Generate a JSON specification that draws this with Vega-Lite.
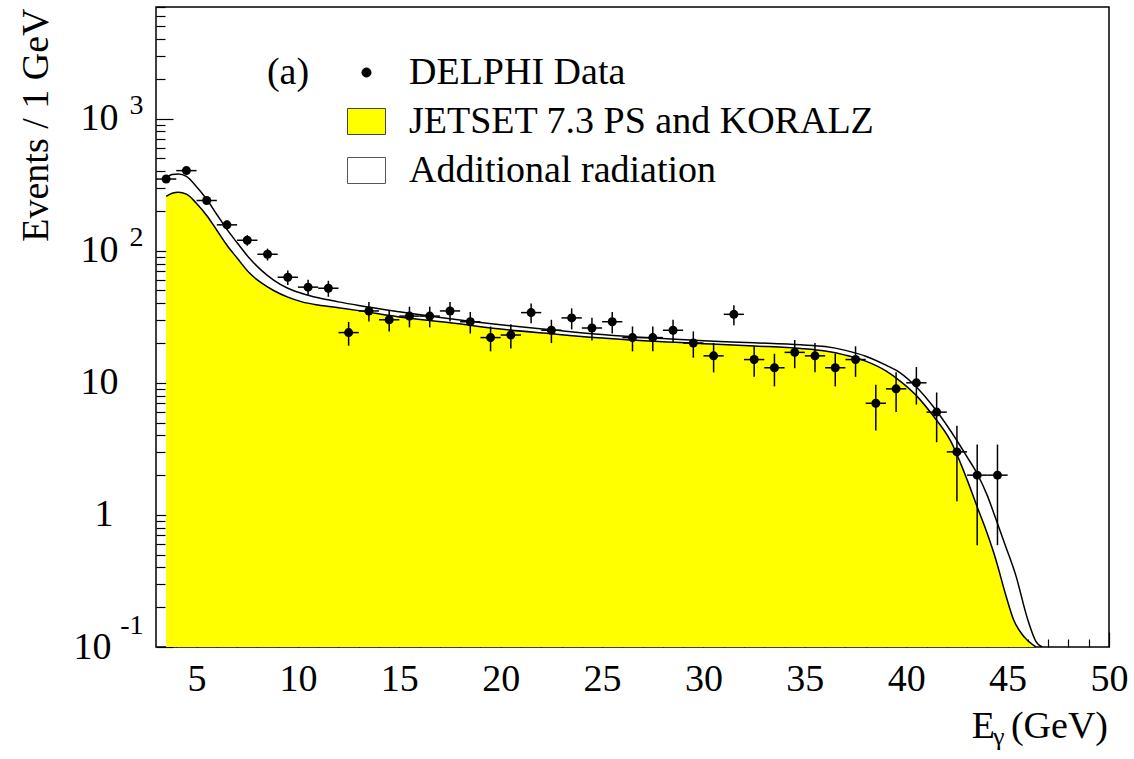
{
  "$schema": "https://vega.github.io/schema/vega-lite/v6.json",
  "width": 953,
  "height": 640,
  "autosize": {"type": "none"},
  "padding": {"left": 156, "top": 7, "right": 25, "bottom": 112},
  "background": "white",
  "config": {
    "view": {"stroke": "black", "strokeWidth": 1.5},
    "font": "Liberation Serif",
    "axis": {
      "grid": false, "domain": false,
      "labelFont": "Liberation Serif", "labelColor": "black", "labelFontSize": 38,
      "tickColor": "black", "tickWidth": 1.2,
      "labelOverlap": false, "labelFlush": false, "labelBound": false,
      "titleFont": "Liberation Serif", "titleFontWeight": "normal", "titleColor": "black"
    }
  },
  "datasets": {
    "delphi": [
      {"x": 3.5, "n": 349, "lo": 330.3, "hi": 367.7, "xlo": 3, "xhi": 4},
      {"x": 4.5, "n": 404, "lo": 383.9, "hi": 424.1, "xlo": 4, "xhi": 5},
      {"x": 5.5, "n": 240, "lo": 224.5, "hi": 255.5, "xlo": 5, "xhi": 6},
      {"x": 6.5, "n": 157, "lo": 144.5, "hi": 169.5, "xlo": 6, "xhi": 7},
      {"x": 7.5, "n": 120, "lo": 109.0, "hi": 131.0, "xlo": 7, "xhi": 8},
      {"x": 8.5, "n": 94, "lo": 84.3, "hi": 103.7, "xlo": 8, "xhi": 9},
      {"x": 9.5, "n": 63, "lo": 55.1, "hi": 70.9, "xlo": 9, "xhi": 10},
      {"x": 10.5, "n": 53, "lo": 45.7, "hi": 60.3, "xlo": 10, "xhi": 11},
      {"x": 11.5, "n": 52, "lo": 44.8, "hi": 59.2, "xlo": 11, "xhi": 12},
      {"x": 12.5, "n": 24, "lo": 19.1, "hi": 28.9, "xlo": 12, "xhi": 13},
      {"x": 13.5, "n": 35, "lo": 29.1, "hi": 40.9, "xlo": 13, "xhi": 14},
      {"x": 14.5, "n": 30, "lo": 24.5, "hi": 35.5, "xlo": 14, "xhi": 15},
      {"x": 15.5, "n": 32, "lo": 26.3, "hi": 37.7, "xlo": 15, "xhi": 16},
      {"x": 16.5, "n": 32, "lo": 26.3, "hi": 37.7, "xlo": 16, "xhi": 17},
      {"x": 17.5, "n": 35, "lo": 29.1, "hi": 40.9, "xlo": 17, "xhi": 18},
      {"x": 18.5, "n": 29, "lo": 23.6, "hi": 34.4, "xlo": 18, "xhi": 19},
      {"x": 19.5, "n": 22, "lo": 17.3, "hi": 26.7, "xlo": 19, "xhi": 20},
      {"x": 20.5, "n": 23, "lo": 18.2, "hi": 27.8, "xlo": 20, "xhi": 21},
      {"x": 21.5, "n": 34, "lo": 28.2, "hi": 39.8, "xlo": 21, "xhi": 22},
      {"x": 22.5, "n": 25, "lo": 20.0, "hi": 30.0, "xlo": 22, "xhi": 23},
      {"x": 23.5, "n": 31, "lo": 25.4, "hi": 36.6, "xlo": 23, "xhi": 24},
      {"x": 24.5, "n": 26, "lo": 20.9, "hi": 31.1, "xlo": 24, "xhi": 25},
      {"x": 25.5, "n": 29, "lo": 23.6, "hi": 34.4, "xlo": 25, "xhi": 26},
      {"x": 26.5, "n": 22, "lo": 17.3, "hi": 26.7, "xlo": 26, "xhi": 27},
      {"x": 27.5, "n": 22, "lo": 17.3, "hi": 26.7, "xlo": 27, "xhi": 28},
      {"x": 28.5, "n": 25, "lo": 20.0, "hi": 30.0, "xlo": 28, "xhi": 29},
      {"x": 29.5, "n": 20, "lo": 15.5, "hi": 24.5, "xlo": 29, "xhi": 30},
      {"x": 30.5, "n": 16, "lo": 12.0, "hi": 20.0, "xlo": 30, "xhi": 31},
      {"x": 31.5, "n": 33, "lo": 27.3, "hi": 38.7, "xlo": 31, "xhi": 32},
      {"x": 32.5, "n": 15, "lo": 11.1, "hi": 18.9, "xlo": 32, "xhi": 33},
      {"x": 33.5, "n": 13, "lo": 9.4, "hi": 16.6, "xlo": 33, "xhi": 34},
      {"x": 34.5, "n": 17, "lo": 12.9, "hi": 21.1, "xlo": 34, "xhi": 35},
      {"x": 35.5, "n": 16, "lo": 12.0, "hi": 20.0, "xlo": 35, "xhi": 36},
      {"x": 36.5, "n": 13, "lo": 9.4, "hi": 16.6, "xlo": 36, "xhi": 37},
      {"x": 37.5, "n": 15, "lo": 11.1, "hi": 18.9, "xlo": 37, "xhi": 38},
      {"x": 38.5, "n": 7, "lo": 4.35, "hi": 9.65, "xlo": 38, "xhi": 39},
      {"x": 39.5, "n": 9, "lo": 6.0, "hi": 12.0, "xlo": 39, "xhi": 40},
      {"x": 40.5, "n": 10, "lo": 6.84, "hi": 13.16, "xlo": 40, "xhi": 41},
      {"x": 41.5, "n": 6, "lo": 3.55, "hi": 8.45, "xlo": 41, "xhi": 42},
      {"x": 42.5, "n": 3, "lo": 1.27, "hi": 4.73, "xlo": 42, "xhi": 43},
      {"x": 43.5, "n": 2, "lo": 0.59, "hi": 3.41, "xlo": 43, "xhi": 44},
      {"x": 44.5, "n": 2, "lo": 0.59, "hi": 3.41, "xlo": 44, "xhi": 45}
    ],
    "jetset": [
      {"x": 3.5, "v": 258}, {"x": 3.8, "v": 272}, {"x": 4.1, "v": 277}, {"x": 4.5, "v": 268},
      {"x": 5.0, "v": 228}, {"x": 5.5, "v": 185}, {"x": 6.0, "v": 143}, {"x": 6.5, "v": 110},
      {"x": 7.0, "v": 88}, {"x": 7.6, "v": 68}, {"x": 8.2, "v": 57}, {"x": 8.8, "v": 50},
      {"x": 9.5, "v": 44.5}, {"x": 10.2, "v": 41}, {"x": 11, "v": 38.8}, {"x": 12, "v": 37},
      {"x": 13, "v": 35.2}, {"x": 15, "v": 31.5}, {"x": 17.5, "v": 28.5}, {"x": 20, "v": 25.5},
      {"x": 22.5, "v": 23.5}, {"x": 25, "v": 21.8}, {"x": 27.5, "v": 20.6}, {"x": 30, "v": 19.8},
      {"x": 32.5, "v": 19.0}, {"x": 34.8, "v": 18.2}, {"x": 36, "v": 17.4}, {"x": 37, "v": 16.2},
      {"x": 38, "v": 14.6}, {"x": 39, "v": 12.3}, {"x": 39.7, "v": 10.3}, {"x": 40.5, "v": 8.0},
      {"x": 41.3, "v": 5.7}, {"x": 42.2, "v": 3.6}, {"x": 43, "v": 1.85}, {"x": 43.5, "v": 1.15},
      {"x": 44, "v": 0.72}, {"x": 44.4, "v": 0.47}, {"x": 44.9, "v": 0.25}, {"x": 45.3, "v": 0.16},
      {"x": 45.8, "v": 0.12}, {"x": 46.4, "v": 0.1}
    ],
    "rad": [
      {"x": 3.5, "v": 355}, {"x": 3.8, "v": 378}, {"x": 4.1, "v": 381}, {"x": 4.5, "v": 365},
      {"x": 5.0, "v": 305}, {"x": 5.5, "v": 245}, {"x": 6.0, "v": 188}, {"x": 6.5, "v": 145},
      {"x": 7.0, "v": 115}, {"x": 7.6, "v": 88}, {"x": 8.2, "v": 71}, {"x": 8.8, "v": 60},
      {"x": 9.5, "v": 52}, {"x": 10.2, "v": 47.5}, {"x": 11, "v": 44}, {"x": 12, "v": 41},
      {"x": 13, "v": 38.5}, {"x": 15, "v": 34.5}, {"x": 17.5, "v": 30.5}, {"x": 20, "v": 27.5},
      {"x": 22.5, "v": 25.2}, {"x": 25, "v": 23.2}, {"x": 27.5, "v": 21.8}, {"x": 30, "v": 20.8},
      {"x": 32.5, "v": 20.1}, {"x": 34.8, "v": 19.4}, {"x": 36, "v": 18.8}, {"x": 37, "v": 17.6},
      {"x": 38, "v": 15.9}, {"x": 39, "v": 13.6}, {"x": 39.7, "v": 11.9}, {"x": 40.5, "v": 9.3},
      {"x": 41.3, "v": 6.7}, {"x": 42.2, "v": 4.3}, {"x": 43, "v": 2.75}, {"x": 43.5, "v": 2.05},
      {"x": 44, "v": 1.4}, {"x": 44.4, "v": 0.95}, {"x": 44.9, "v": 0.58}, {"x": 45.4, "v": 0.35},
      {"x": 46, "v": 0.16}, {"x": 46.4, "v": 0.11}, {"x": 46.7, "v": 0.1}
    ]
  },
  "resolve": {"axis": {"x": "independent", "y": "independent"}},
  "layer": [
    {
      "data": {"name": "jetset"},
      "mark": {"type": "area", "fill": "#ffff00", "interpolate": "monotone", "clip": true},
      "encoding": {
        "x": {
          "field": "x", "type": "quantitative",
          "scale": {"domain": [3, 50], "nice": false, "zero": false},
          "axis": {
            "orient": "bottom",
            "values": [4,5,6,7,8,9,10,11,12,13,14,15,16,17,18,19,20,21,22,23,24,25,26,27,28,29,30,31,32,33,34,35,36,37,38,39,40,41,42,43,44,45,46,47,48,49,50],
            "tickSize": {"condition": {"test": "datum.value % 5 == 0", "value": -15}, "value": -8},
            "labelExpr": "datum.value % 5 == 0 ? datum.label : ''",
            "labelPadding": 28,
            "labelBaseline": "top",
            "title": null
          }
        },
        "y": {
          "field": "v", "type": "quantitative",
          "scale": {"type": "log", "domain": [0.1, 7000], "nice": false},
          "axis": {
            "orient": "left",
            "values": [0.1,0.2,0.3,0.4,0.5,0.6,0.7,0.8,0.9,1,2,3,4,5,6,7,8,9,10,20,30,40,50,60,70,80,90,100,200,300,400,500,600,700,800,900,1000,2000,3000,4000,5000,6000,7000],
            "tickSize": {"condition": {"test": "datum.value==0.1||datum.value==1||datum.value==10||datum.value==100||datum.value==1000", "value": -17}, "value": -9},
            "labelExpr": "(datum.value==0.1||datum.value==10||datum.value==100||datum.value==1000) ? '10' : (datum.value==1 ? '1' : '')",
            "labelAlign": "right",
            "labelBaseline": "middle",
            "labelPadding": {"condition": [{"test": "datum.value==0.1", "value": 62}, {"test": "datum.value==1", "value": 60}], "value": 55},
            "title": "Events / 1 GeV",
            "titleFontSize": 38,
            "titleAngle": 270,
            "titleAlign": "right",
            "titleBaseline": "alphabetic",
            "titleX": -109,
            "titleY": 1
          }
        },
        "y2": {"datum": 0.1}
      }
    },
    {
      "data": {"name": "jetset"},
      "mark": {"type": "line", "color": "black", "strokeWidth": 1.5, "interpolate": "monotone", "clip": true},
      "encoding": {
        "x": {"field": "x", "type": "quantitative", "axis": null},
        "y": {"field": "v", "type": "quantitative", "axis": null}
      }
    },
    {
      "data": {"name": "rad"},
      "mark": {"type": "line", "color": "black", "strokeWidth": 1.5, "interpolate": "monotone", "clip": true},
      "encoding": {
        "x": {"field": "x", "type": "quantitative", "axis": null},
        "y": {
          "field": "v", "type": "quantitative",
          "axis": {
            "orient": "left",
            "values": [0.1, 100, 1000],
            "ticks": false,
            "domain": false,
            "labelExpr": "datum.value==0.1 ? '-1' : (datum.value==100 ? '2' : '3')",
            "labelFontSize": 28,
            "labelAlign": "right",
            "labelBaseline": "middle",
            "labelPadding": 13,
            "labelOffset": {"condition": {"test": "datum.value==0.1", "value": -22}, "value": -13},
            "title": null
          }
        }
      }
    },
    {
      "data": {"name": "delphi"},
      "mark": {"type": "rule", "color": "black", "strokeWidth": 1.5},
      "encoding": {
        "x": {"field": "x", "type": "quantitative", "axis": null},
        "y": {"field": "lo", "type": "quantitative", "axis": null},
        "y2": {"field": "hi"}
      }
    },
    {
      "data": {"name": "delphi"},
      "mark": {"type": "rule", "color": "black", "strokeWidth": 1.5},
      "encoding": {
        "x": {"field": "xlo", "type": "quantitative", "axis": null},
        "x2": {"field": "xhi"},
        "y": {"field": "n", "type": "quantitative", "axis": null}
      }
    },
    {
      "data": {"name": "delphi"},
      "mark": {"type": "point", "filled": true, "color": "black", "size": 81, "opacity": 1},
      "encoding": {
        "x": {"field": "x", "type": "quantitative", "axis": null},
        "y": {"field": "n", "type": "quantitative", "axis": null}
      }
    },
    {
      "data": {"values": []},
      "mark": {"type": "point", "filled": true, "opacity": 1, "strokeWidth": 1},
      "encoding": {
        "fill": {
          "field": "s", "type": "nominal",
          "scale": {"domain": ["DELPHI Data", "JETSET 7.3 PS and KORALZ", "Additional radiation"], "range": ["black", "#ffff00", "white"]},
          "legend": {
            "title": null, "orient": "none", "legendX": 191, "legendY": 46,
            "symbolSize": 1444, "labelFontSize": 38, "labelFont": "Liberation Serif", "labelColor": "black",
            "labelOffset": 23, "rowPadding": 10, "padding": 0, "labelLimit": 1000,
            "symbolStrokeWidth": 1, "symbolOpacity": 1
          }
        },
        "stroke": {
          "field": "s", "type": "nominal",
          "scale": {"domain": ["DELPHI Data", "JETSET 7.3 PS and KORALZ", "Additional radiation"], "range": ["black", "#444444", "#555555"]},
          "legend": {
            "title": null, "orient": "none", "legendX": 191, "legendY": 46,
            "symbolSize": 1444, "labelFontSize": 38, "labelFont": "Liberation Serif", "labelColor": "black",
            "labelOffset": 23, "rowPadding": 10, "padding": 0, "labelLimit": 1000,
            "symbolStrokeWidth": 1, "symbolOpacity": 1
          }
        },
        "shape": {
          "field": "s", "type": "nominal",
          "scale": {"domain": ["DELPHI Data", "JETSET 7.3 PS and KORALZ", "Additional radiation"], "range": ["M0,-0.24A0.24,0.24,0,1,1,0,0.24A0.24,0.24,0,1,1,0,-0.24Z", "M-1,-0.684L1,-0.684L1,0.684L-1,0.684Z", "M-1,-0.684L1,-0.684L1,0.684L-1,0.684Z"]},
          "legend": {
            "title": null, "orient": "none", "legendX": 191, "legendY": 46,
            "symbolSize": 1444, "labelFontSize": 38, "labelFont": "Liberation Serif", "labelColor": "black",
            "labelOffset": 23, "rowPadding": 10, "padding": 0, "labelLimit": 1000,
            "symbolStrokeWidth": 1, "symbolOpacity": 1
          }
        }
      }
    },
    {
      "data": {"values": [{}]},
      "mark": {"type": "text", "text": "(a)", "align": "left", "baseline": "middle", "fontSize": 38, "font": "Liberation Serif", "color": "black"},
      "encoding": {
        "x": {"datum": 8.47, "type": "quantitative", "axis": null},
        "y": {"datum": 2228, "type": "quantitative", "axis": null}
      }
    },
    {
      "data": {"values": [{}]},
      "mark": {"type": "text", "text": "(GeV)", "align": "right", "baseline": "alphabetic", "dx": -1, "dy": 91, "fontSize": 38, "font": "Liberation Serif", "color": "black"},
      "encoding": {
        "x": {"datum": 50, "type": "quantitative", "axis": null},
        "y": {"datum": 0.1, "type": "quantitative", "axis": null}
      }
    },
    {
      "data": {"values": [{}]},
      "mark": {"type": "text", "text": "E", "align": "right", "baseline": "alphabetic", "dx": -114, "dy": 91, "fontSize": 38, "font": "Liberation Serif", "color": "black"},
      "encoding": {
        "x": {"datum": 50, "type": "quantitative", "axis": null},
        "y": {"datum": 0.1, "type": "quantitative", "axis": null}
      }
    },
    {
      "data": {"values": [{}]},
      "mark": {"type": "text", "text": "γ", "align": "left", "baseline": "alphabetic", "dx": -116, "dy": 98, "fontSize": 26, "font": "Liberation Serif", "color": "black"},
      "encoding": {
        "x": {"datum": 50, "type": "quantitative", "axis": null},
        "y": {"datum": 0.1, "type": "quantitative", "axis": null}
      }
    }
  ]
}
